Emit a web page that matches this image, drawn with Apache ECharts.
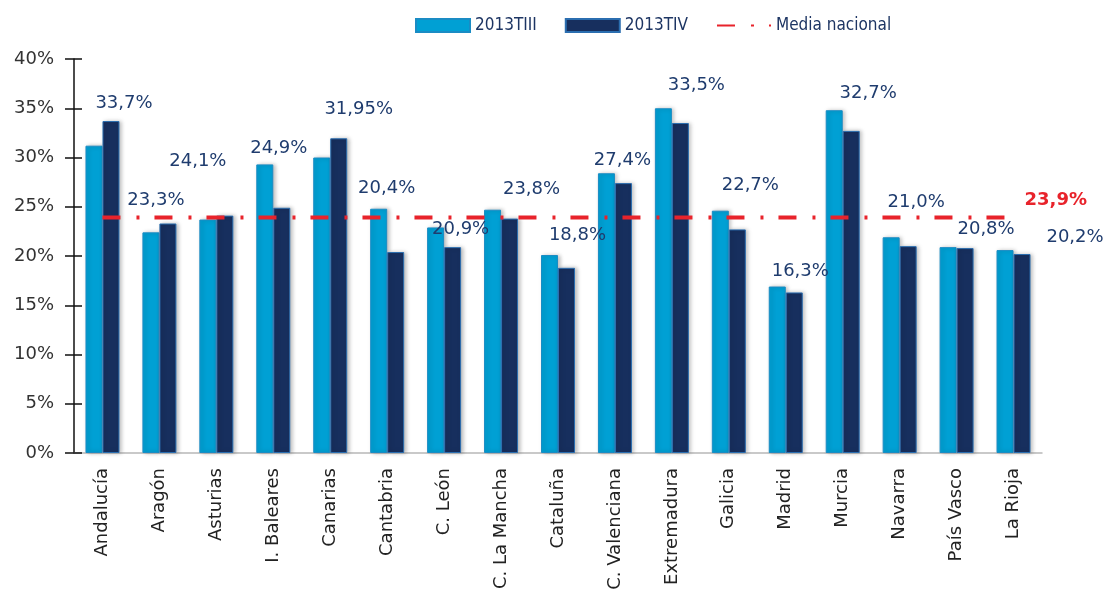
<!DOCTYPE html>
<html>
<head>
<meta charset="utf-8">
<script src="https://cdn.jsdelivr.net/npm/echarts@6/dist/echarts.min.js"></script>
<style>
    html, body { margin: 0; padding: 0; background: #fff; }
    #chart { width: 1109px; height: 598px; }
</style>
</head>
<body>
<div id="chart"></div>
<script>
const categories = ['Andalucía', 'Aragón', 'Asturias', 'I. Baleares', 'Canarias', 'Cantabria', 'C. León',
    'C. La Mancha', 'Cataluña', 'C. Valenciana', 'Extremadura', 'Galicia', 'Madrid', 'Murcia', 'Navarra',
    'País Vasco', 'La Rioja']
const t3 = [31.2, 22.4, 23.7, 29.3, 30.0, 24.8, 22.9, 24.7, 20.1, 28.4, 35.0, 24.6, 16.9, 34.8, 21.9, 20.9, 20.6]
const t4 = [33.7, 23.3, 24.1, 24.9, 31.95, 20.4, 20.9, 23.8, 18.8, 27.4, 33.5, 22.7, 16.3, 32.7, 21.0, 20.8, 20.2]
const mediaNacional = 23.9
const yTicks = { min: 0, max: 40, interval: 5 }

// where each value label sits relative to the top of its bar (px)
const labelShift = [[13, -9], [-12, -14], [-27, -45], [-3, -50], [20, -20], [-9, -55], [8, -9], [22, -20],
    [11, -23], [-1, -14], [16, -29], [13, -35], [6, -12], [17, -29], [8, -35], [21, -10], [53, -8]]

const fmt = (v) => String(v).replace('.', ',') + (String(v).indexOf('.') < 0 ? ',0' : '') + '%'

const myChart = echarts.init(document.getElementById('chart'))
const option = {
    animation: false,
    grid: {
        left: 74,
        right: 67,
        top: 59,
        bottom: 145
    },
    legend: {
        left: 410,
        top: 12,
        itemWidth: 54,
        itemHeight: 13,
        itemGap: 28,
        textStyle: {
            fontFamily: '"DejaVu Sans Condensed", "Liberation Sans", sans-serif',
            fontSize: 17,
            color: '#1d3563'
        },
        data: [
            { name: '2013TIII', icon: 'rect' },
            { name: '2013TIV', icon: 'rect' },
            { name: 'Media nacional', itemStyle: { opacity: 0 } }
        ]
    },
    xAxis: {
        type: 'category',
        data: categories,
        axisLine: { lineStyle: { color: '#b8b8b8', width: 1.5 } },
        axisTick: { length: 6, lineStyle: { color: '#b8b8b8', width: 1.5 } },
        axisLabel: {
            rotate: 90,
            margin: 15,
            fontFamily: '"DejaVu Sans", sans-serif',
            fontSize: 18,
            color: '#222'
        }
    },
    yAxis: [
        {
            type: 'value',
            min: yTicks.min,
            max: yTicks.max,
            interval: yTicks.interval,
            axisLine: { show: true, lineStyle: { color: '#111', width: 1.5 } },
            axisTick: { show: true, length: 9, lineStyle: { color: '#111', width: 1.5 } },
            splitLine: { show: false },
            axisLabel: {
                margin: 20,
                formatter: '{value}%',
                fontFamily: '"DejaVu Sans", sans-serif',
                fontSize: 18,
                color: '#333'
            }
        },
        {
            type: 'value',
            position: 'left',
            min: yTicks.min,
            max: yTicks.max,
            interval: yTicks.interval,
            axisLine: { show: false },
            axisTick: { show: true, inside: true, length: 8, lineStyle: { color: '#111', width: 1.5 } },
            axisLabel: { show: false },
            splitLine: { show: false }
        }
    ],
    series: [
        {
            name: '2013TIII',
            type: 'bar',
            data: t3,
            barWidth: 17,
            barGap: '0%',
            itemStyle: {
                color: '#00a0d4',
                borderColor: '#1a8cc4',
                borderWidth: 1,
                shadowBlur: 4,
                shadowOffsetX: 2,
                shadowColor: 'rgba(0,0,0,0.25)'
            }
        },
        {
            name: '2013TIV',
            type: 'bar',
            barWidth: 17,
            data: t4.map((v, i) => ({
                value: v,
                label: { offset: labelShift[i] }
            })),
            itemStyle: {
                color: '#172f5e',
                borderColor: '#2b6eb0',
                borderWidth: 1,
                shadowBlur: 4,
                shadowOffsetX: 2,
                shadowColor: 'rgba(0,0,0,0.25)'
            },
            label: {
                show: true,
                position: 'top',
                distance: 0,
                lineHeight: 18,
                formatter: (p) => fmt(p.value),
                fontFamily: '"DejaVu Sans", sans-serif',
                fontSize: 18,
                color: '#1f3c6e'
            }
        },
        {
            name: 'Media nacional',
            type: 'line',
            data: categories.map(() => mediaNacional),
            symbol: 'none',
            z: 5,
            lineStyle: {
                color: '#e8232b',
                width: 4,
                type: [18, 16, 3, 15]
            },
            itemStyle: { color: '#e8232b' },
            endLabel: {
                show: true,
                distance: 11,
                offset: [0, -17],
                formatter: () => fmt(mediaNacional),
                fontFamily: '"DejaVu Sans", sans-serif',
                fontWeight: 'bold',
                fontSize: 18,
                color: '#e8232b'
            }
        }
    ]
}
myChart.setOption(option)
</script>
</body>
</html>
